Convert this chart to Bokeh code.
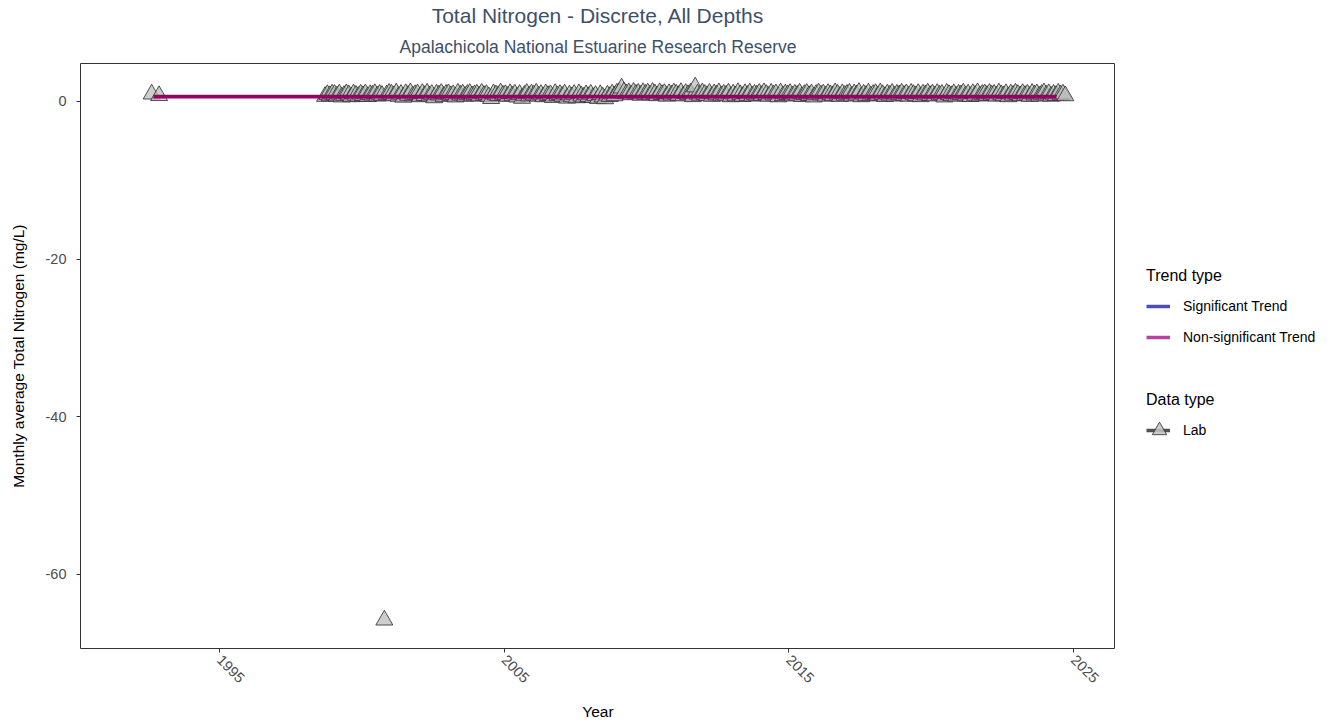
import math
from bokeh.plotting import figure
from bokeh.layouts import row
from bokeh.models import (ColumnDataSource, FixedTicker, Range1d, Legend, LegendItem,
                          Title, CustomJSTickFormatter)
from bokeh.embed import file_html
from bokeh.resources import INLINE

# ---------------- data ----------------
early_years = [1992.62, 1992.88]
early_values = [0.92, 0.72]

start_year = 1998
start_month = 9  # September 1998
monthly_values = [
    # 1998 Sep-Dec
    0.62, 0.85, 0.71, 0.93,
    # 1999
    0.88, 0.67, 0.92, 0.55, 0.74, 0.96, 0.81, 0.58, 0.94, 0.77, 0.63, 0.90,
    # 2000
    0.72, 0.95, 0.60, 0.84, 0.79, 0.98, 0.66, 0.89, 0.75, -65.8, 0.82, 1.02,
    # 2001
    0.91, 0.70, 1.05, 0.63, 0.88, 0.52, 0.97, 0.76, 1.08, 0.69, 0.85, 0.94,
    # 2002
    0.58, 0.99, 0.73, 1.04, 0.66, 0.87, 0.45, 0.92, 0.80, 1.01, 0.62, 0.89,
    # 2003
    0.96, 0.71, 0.84, 0.55, 1.03, 0.78, 0.93, 0.64, 0.88, 1.00, 0.69, 0.82,
    # 2004
    0.90, 0.67, 1.02, 0.74, 0.86, 0.59, 0.35, 0.95, 0.81, 0.72, 1.06, 0.77,
    # 2005
    0.85, 0.62, 0.98, 0.70, 0.91, 0.54, 0.88, 0.38, 0.76, 1.01, 0.68, 0.93,
    # 2006
    0.79, 1.04, 0.66, 0.87, 0.58, 0.95, 0.73, 0.84, 0.49, 0.99, 0.71, 0.86,
    # 2007
    0.63, 0.92, 0.40, 0.80, 0.57, 0.88, 0.45, 0.96, 0.68, 0.52, 0.83, 0.60,
    # 2008
    0.90, 0.47, 0.74, 0.36, 0.85, 0.55, 0.32, 0.78, 0.61, 0.93, 0.70, 1.05,
    # 2009
    1.12, 1.68, 1.20, 0.95, 1.08, 0.83, 1.15, 0.90, 1.02, 0.77, 1.10, 0.88,
    # 2010
    1.05, 0.82, 1.13, 0.94, 0.71, 1.09, 0.86, 1.00, 0.65, 0.97, 0.79, 1.06,
    # 2011
    0.91, 0.74, 1.11, 0.68, 0.99, 0.84, 1.04, 0.59, 1.82, 0.92, 0.76, 1.07,
    # 2012
    0.88, 0.72, 1.02, 0.63, 0.95, 0.81, 1.08, 0.69, 0.90, 0.77, 1.05, 0.58,
    # 2013
    0.93, 0.70, 1.10, 0.84, 0.61, 0.98, 0.75, 1.06, 0.66, 0.89, 0.79, 1.01,
    # 2014
    0.74, 1.09, 0.87, 0.63, 1.03, 0.80, 0.95, 0.57, 1.07, 0.71, 0.92, 0.84,
    # 2015
    0.99, 0.68, 0.90, 0.77, 1.04, 0.60, 0.86, 1.01, 0.73, 0.94, 0.55, 0.88,
    # 2016
    1.06, 0.79, 0.93, 0.65, 1.00, 0.83, 0.71, 1.08, 0.90, 0.62, 0.97, 0.76,
    # 2017
    0.89, 1.03, 0.67, 0.95, 0.80, 1.12, 0.58, 0.91, 0.74, 1.05, 0.69, 0.87,
    # 2018
    0.98, 0.72, 1.07, 0.84, 0.61, 0.93, 0.78, 1.01, 0.66, 0.90, 0.82, 1.04,
    # 2019
    0.75, 0.96, 0.63, 1.02, 0.87, 0.70, 0.99, 0.59, 0.92, 0.81, 1.06, 0.73,
    # 2020
    0.94, 0.68, 1.00, 0.78, 0.89, 0.55, 1.03, 0.85, 0.72, 0.97, 0.64, 0.91,
    # 2021
    0.83, 1.05, 0.70, 0.92, 0.60, 0.98, 0.76, 1.09, 0.67, 0.88, 0.95, 0.74,
    # 2022
    1.01, 0.79, 0.90, 0.65, 1.06, 0.82, 0.71, 0.97, 0.58, 0.93, 0.77, 1.04,
    # 2023
    0.86, 0.69, 0.99, 0.74, 0.91, 0.62, 1.02, 0.80, 0.95, 0.66, 0.88, 1.07,
    # 2024 Jan-Sep
    0.78, 0.97, 0.64, 0.89, 0.73, 1.03, 0.81, 0.92, 0.70,
]

trend_years = [1992.68, 2024.40]
trend_values = [0.61, 0.59]

x_ticks = [1995, 2005, 2015, 2025]
y_ticks = [0, -20, -40, -60]

title_text = "Total Nitrogen - Discrete, All Depths"
subtitle_text = "Apalachicola National Estuarine Research Reserve"
x_label = "Year"
y_label = "Monthly average Total Nitrogen (mg/L)"
trend_legend_title = "Trend type"
trend_labels = ["Significant Trend", "Non-significant Trend"]
data_legend_title = "Data type"
data_labels = ["Lab"]

# ---------------- build ----------------
dec_years = []
for i, _ in enumerate(monthly_values):
    m = start_month - 1 + i
    dec_years.append(start_year + m // 12 + ((m % 12) + 0.5) / 12.0)

all_x = early_years + dec_years
all_y = early_values + monthly_values
pts = ColumnDataSource(dict(x=all_x, y=all_y))
trend = ColumnDataSource(dict(x=trend_years, y=trend_values))

FONT = "Liberation Sans"
W, H = 1343, 725
LEG_W = 228
TITLE_COLOR = "#3d5068"

p = figure(width=W - LEG_W, height=H, output_backend="svg", toolbar_location=None,
           x_range=Range1d(1990.12, 2026.47), y_range=Range1d(-69.4, 4.8),
           min_border_left=80, min_border_right=0, min_border_top=63,
           min_border_bottom=77, background_fill_color="white",
           border_fill_color="white")

# titles (subtitle first so main ends up on top)
p.add_layout(Title(text=subtitle_text, align="center", text_font=FONT,
                   text_font_size="17.5px", text_font_style="normal",
                   text_color=TITLE_COLOR, standoff=14), "above")
p.add_layout(Title(text=title_text, align="center", text_font=FONT,
                   text_font_size="21px", text_font_style="normal",
                   text_color=TITLE_COLOR, standoff=1), "above")

p.grid.visible = False
p.outline_line_color = "#333333"
p.outline_line_width = 1

for ax in (p.xaxis[0], p.yaxis[0]):
    ax.axis_line_color = None
    ax.major_tick_line_color = "#333333"
    ax.major_tick_out = 4
    ax.major_tick_in = 0
    ax.minor_tick_line_color = None
    ax.major_label_text_font = FONT
    ax.major_label_text_font_size = "14.5px"
    ax.major_label_text_color = "#4d4d4d"
    ax.axis_label_text_font = FONT
    ax.axis_label_text_font_size = "15.5px"
    ax.axis_label_text_font_style = "normal"
    ax.axis_label_text_color = "black"

p.xaxis.ticker = FixedTicker(ticks=x_ticks)
p.yaxis.ticker = FixedTicker(ticks=y_ticks)
p.xaxis.major_label_orientation = -math.pi / 4
p.xaxis.axis_label = x_label
p.yaxis.axis_label = y_label
p.yaxis.major_label_standoff = 10
p.yaxis.axis_label_standoff = 16
p.xaxis.major_label_standoff = 5
p.xaxis.axis_label_standoff = 13
p.xaxis.formatter = CustomJSTickFormatter(code="return String(tick)")
p.yaxis.formatter = CustomJSTickFormatter(code="return String(tick)")

# data: points then trend line on top
p.scatter("x", "y", source=pts, marker="triangle", size=17,
          fill_color="#bdbdbd", fill_alpha=0.75,
          line_color="#333333", line_alpha=0.85, line_width=1)
p.line("x", "y", source=trend, line_color="#990066", line_width=3.8)

# ---------------- legend panel ----------------
lf = figure(width=LEG_W, height=H, output_backend="svg", toolbar_location=None,
            x_range=Range1d(0, 1), y_range=Range1d(0, 1),
            min_border_left=0, min_border_right=0, min_border_top=0,
            min_border_bottom=0, outline_line_color=None,
            background_fill_color="white", border_fill_color="white")
lf.axis.visible = False
lf.grid.visible = False

# legend-only renderers, kept outside the visible range of the legend panel
offscreen = ColumnDataSource(dict(x=[-5, -4], y=[-5, -4]))
sig = lf.line("x", "y", source=offscreen, line_color="#4b4bc4", line_width=3.5)
nonsig = lf.line("x", "y", source=offscreen, line_color="#b0489a", line_width=3.5)
lab_line = lf.line("x", "y", source=offscreen, line_color="#333333", line_alpha=0.85,
                   line_width=3.5)
lab_pt = lf.scatter("x", "y", source=offscreen, marker="triangle", size=15,
                    fill_color="#c4c4c4", fill_alpha=0.85,
                    line_color="#333333", line_alpha=0.85, line_width=1)


def make_legend(title, items, loc, gw=24, gh=20, standoff=13):
    kw = dict(items=items, location=loc,
              title_text_font=FONT, title_text_font_size="16px",
              title_text_font_style="normal", title_text_color="black",
              label_text_font=FONT, label_text_font_size="14px",
              label_text_color="black",
              border_line_color=None, background_fill_alpha=0,
              padding=0, margin=0, spacing=11, glyph_width=gw, glyph_height=gh,
              label_height=20, label_standoff=standoff, title_standoff=11)
    if title is not None:
        kw["title"] = title
    return Legend(**kw)


lg1 = make_legend(trend_legend_title,
                  [LegendItem(label=trend_labels[0], renderers=[sig]),
                   LegendItem(label=trend_labels[1], renderers=[nonsig])],
                  (31, 301))
lg2 = make_legend(data_legend_title,
                  [LegendItem(label=data_labels[0], renderers=[lab_line])],
                  (31, 208))
# larger triangle overlaid on the "Lab" line swatch
lg3 = make_legend(None, [LegendItem(label=" ", renderers=[lab_pt])],
                  (26, 200), gw=36, gh=36, standoff=0)
lf.add_layout(lg1, "center")
lf.add_layout(lg2, "center")
lf.add_layout(lg3, "center")

layout = row(p, lf)
open("out.html", "w").write(file_html(layout, INLINE))
